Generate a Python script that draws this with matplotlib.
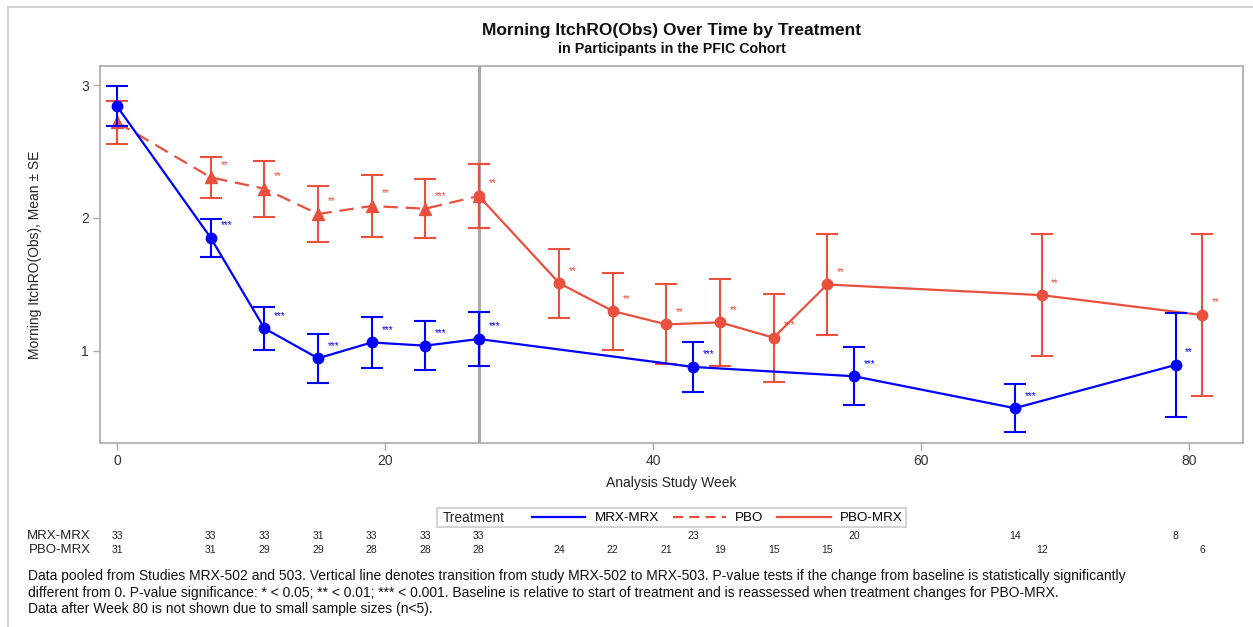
import matplotlib
matplotlib.use("Agg")
import matplotlib.pyplot as plt
from matplotlib.lines import Line2D
from matplotlib.patches import Rectangle
from matplotlib import transforms

plt.rcParams['font.family'] = ['Liberation Sans', 'DejaVu Sans']

# ---- data ----
weeks_mrx = [0, 7, 11, 15, 19, 23, 27, 43, 55, 67, 79]
mean_mrx = [2.84, 1.85, 1.17, 0.945, 1.064, 1.04, 1.09, 0.88, 0.81, 0.57, 0.895]
se_mrx = [0.15, 0.14, 0.16, 0.185, 0.19, 0.185, 0.2, 0.19, 0.22, 0.18, 0.39]
sig_mrx = ['', '***', '***', '***', '***', '***', '***', '***', '***', '***', '**']

weeks_pbo = [0, 7, 11, 15, 19, 23, 27]
mean_pbo = [2.72, 2.305, 2.22, 2.03, 2.09, 2.07, 2.165]
se_pbo = [0.16, 0.155, 0.21, 0.21, 0.23, 0.22, 0.24]
sig_pbo = ['', '**', '**', '**', '**', '***', '']

weeks_pbomrx = [27, 33, 37, 41, 45, 49, 53, 69, 81]
mean_pbomrx = [2.165, 1.51, 1.30, 1.20, 1.215, 1.10, 1.50, 1.42, 1.27]
se_pbomrx = [0.24, 0.26, 0.29, 0.30, 0.325, 0.33, 0.38, 0.46, 0.61]
sig_pbomrx = ['**', '**', '**', '**', '**', '***', '**', '**', '**']

risk_weeks_mrx = [0, 7, 11, 15, 19, 23, 27, 43, 55, 67, 79]
risk_n_mrx = [33, 33, 33, 31, 33, 33, 33, 23, 20, 14, 8]
risk_weeks_pbo = [0, 7, 11, 15, 19, 23, 27, 33, 37, 41, 45, 49, 53, 69, 81]
risk_n_pbo = [31, 31, 29, 29, 28, 28, 28, 24, 22, 21, 19, 15, 15, 12, 6]

transition_week = 27
x_ticks = [0, 20, 40, 60, 80]
y_ticks = [1, 2, 3]

BLUE = '#0000ff'
RED = '#e9503e'
GRAY = '#aaaaaa'
TXT = '#333333'

W, H = 1253, 627
fig = plt.figure(figsize=(W / 100, H / 100), dpi=100)

# page border
fig.add_artist(Line2D([8 / W, 8 / W], [0, 1 - 7 / H], transform=fig.transFigure,
                      color='#cccccc', lw=1.2))
fig.add_artist(Line2D([8 / W, 1], [1 - 7 / H, 1 - 7 / H], transform=fig.transFigure,
                      color='#cccccc', lw=1.2))

ax = fig.add_axes([100 / W, 1 - 443 / H, (1243 - 100) / W, (443 - 66) / H])
ax.set_xlim(-1.27, 84.03)
ax.set_ylim(0.308, 3.143)
for s in ax.spines.values():
    s.set_color(GRAY)
    s.set_linewidth(1.2)
ax.set_xticks(x_ticks)
ax.set_yticks(y_ticks)
ax.tick_params(axis='both', colors=GRAY, labelcolor=TXT, labelsize=10,
               length=5, width=1, direction='out', pad=3)

ax.axvline(transition_week, color=GRAY, lw=2.3, zorder=1)

err_kw = dict(capsize=8, capthick=1.5, elinewidth=1.5)

# PBO (dashed, triangles)
ax.errorbar(weeks_pbo, mean_pbo, yerr=se_pbo, color=RED, ecolor=RED, lw=1.6,
            marker='^', ms=8, dashes=(6.5, 3.5), zorder=3, **err_kw)
# PBO-MRX (solid, circles)
ax.errorbar(weeks_pbomrx, mean_pbomrx, yerr=se_pbomrx, color=RED, ecolor=RED, lw=1.6,
            marker='o', ms=7.5, zorder=4, **err_kw)
# MRX-MRX (solid, circles)
ax.errorbar(weeks_mrx, mean_mrx, yerr=se_mrx, color=BLUE, ecolor=BLUE, lw=1.6,
            marker='o', ms=7.5, zorder=5, **err_kw)


def stars(weeks, means, labels, color):
    for w, m, s in zip(weeks, means, labels):
        if s:
            ax.annotate(s, (w, m), xytext=(7, 9), textcoords='offset points',
                        ha='left', va='center', fontsize=7, color=color, zorder=6)


stars(weeks_mrx, mean_mrx, sig_mrx, BLUE)
stars(weeks_pbo, mean_pbo, sig_pbo, RED)
stars(weeks_pbomrx, mean_pbomrx, sig_pbomrx, RED)

ax.set_xlabel('Analysis Study Week', fontsize=10, color='#222222', labelpad=6)
ax.set_ylabel('Morning ItchRO(Obs), Mean ± SE', fontsize=10, color='#222222', labelpad=28)

# titles
cx = (100 + 1243) / 2 / W
fig.text(cx, 1 - 30 / H, 'Morning ItchRO(Obs) Over Time by Treatment', ha='center',
         va='center', fontsize=12.5, fontweight='bold', color='#111111')
fig.text(cx, 1 - 49 / H, 'in Participants in the PFIC Cohort', ha='center',
         va='center', fontsize=10.3, fontweight='bold', color='#111111')

# legend
lx0, lx1, ly0, ly1 = 437, 906, 508, 527
fig.add_artist(Rectangle((lx0 / W, 1 - ly1 / H), (lx1 - lx0) / W, (ly1 - ly0) / H,
                         transform=fig.transFigure, fill=False, ec='#cccccc', lw=1.2))
fig.text(443 / W, 1 - 518 / H, 'Treatment', ha='left', va='center', fontsize=9.8,
         color='#222222')
handles = [Line2D([], [], color=BLUE, lw=1.6),
           Line2D([], [], color=RED, lw=1.6, dashes=(4.5, 2.8)),
           Line2D([], [], color=RED, lw=1.6)]
fig.legend(handles, ['MRX-MRX', 'PBO', 'PBO-MRX'], ncol=3, frameon=False,
           loc='center left', bbox_to_anchor=(532 / W, 1 - 518 / H), fontsize=9.6,
           handlelength=4.0, handletextpad=0.68, columnspacing=1.05,
           borderpad=0, borderaxespad=0)

# number at risk
tr = transforms.blended_transform_factory(ax.transData, fig.transFigure)
fig.text(91 / W, 1 - 536 / H, 'MRX-MRX', ha='right', va='center', fontsize=9.5, color='#222222')
fig.text(91 / W, 1 - 550 / H, 'PBO-MRX', ha='right', va='center', fontsize=9.5, color='#222222')
for w, n in zip(risk_weeks_mrx, risk_n_mrx):
    fig.text(w, 1 - 536 / H, str(n), transform=tr, ha='center', va='center',
             fontsize=7.5, color='#222222')
for w, n in zip(risk_weeks_pbo, risk_n_pbo):
    fig.text(w, 1 - 550 / H, str(n), transform=tr, ha='center', va='center',
             fontsize=7.5, color='#222222')

note = ("Data pooled from Studies MRX-502 and 503. Vertical line denotes transition from study "
        "MRX-502 to MRX-503. P-value tests if the change from baseline is statistically significantly\n"
        "different from 0. P-value significance: * < 0.05; ** < 0.01; *** < 0.001. Baseline is "
        "relative to start of treatment and is reassessed when treatment changes for PBO-MRX.\n"
        "Data after Week 80 is not shown due to small sample sizes (n<5).")
fig.text(28 / W, 1 - 569 / H, note, ha='left', va='top', fontsize=10, color='#111111',
         linespacing=1.24)

fig.savefig('out.png', dpi=100)
